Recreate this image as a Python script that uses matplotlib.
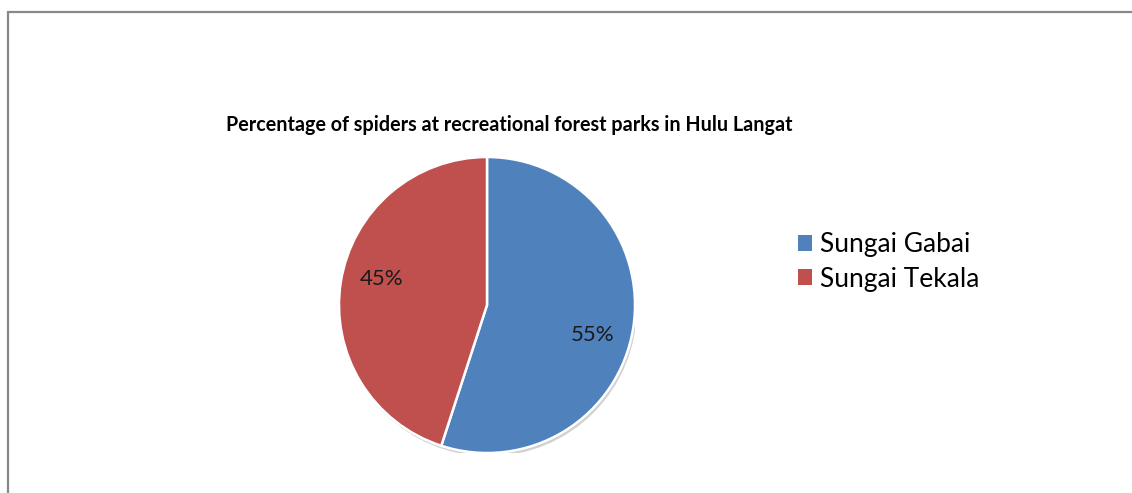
#!/usr/bin/env python3
"""Pie chart: share of spiders at two recreational forest parks in Hulu Langat."""

import matplotlib

matplotlib.use("Agg")
import matplotlib.pyplot as plt
from matplotlib.patches import Circle, Rectangle

parks = ["Sungai Gabai", "Sungai Tekala"]
shares = [55, 45]
colors = ["#4F81BD", "#C0504D"]
title = "Percentage of spiders at recreational forest parks in Hulu Langat"

plt.rcParams["font.family"] = ["Lato", "DejaVu Sans"]

W, H = 1132, 493
fig = plt.figure(figsize=(W / 100, H / 100), dpi=100)

# chart-area frame (only left and top edges visible in the crop)
fig.patches.append(Rectangle((8 / W, -0.1), 1.2, (H - 12) / H + 0.1, transform=fig.transFigure,
                             fill=False, edgecolor="#888888", linewidth=1.6))

cx, cy, r = 487, H - 305, 148
ax = fig.add_axes([(cx - r) / W, (cy - r) / H, 2 * r / W, 2 * r / H])
ax.add_patch(Circle((0.012, -0.022), 1.0, color="#000000", alpha=0.18, zorder=0, linewidth=0))
wedges, _, autotexts = ax.pie(shares, colors=colors, startangle=90, counterclock=False,
                              autopct="%d%%", pctdistance=0.72,
                              wedgeprops=dict(edgecolor="white", linewidth=1.8),
                              textprops=dict(fontsize=16, color="#1a1a1a"))
for t in autotexts:
    t.set_zorder(5)
x, y = autotexts[0].get_position()
autotexts[0].set_position((x, y - 0.09))
x, y = autotexts[1].get_position()
autotexts[1].set_position((x, y + 0.06))
ax.set_xlim(-1, 1)
ax.set_ylim(-1, 1)
ax.set_aspect("equal")
ax.axis("off")

fig.text(509 / W, 1 - 125 / H, title, ha="center", va="center", fontsize=14.2, fontweight="bold")

leg = fig.legend(wedges, parks, loc="upper left", bbox_to_anchor=(790 / W, 1 - 224 / H),
                 frameon=False, fontsize=19, handlelength=0.55, handleheight=0.55,
                 handletextpad=0.3, labelspacing=0.37, borderaxespad=0, borderpad=0.3)
for h in leg.legend_handles:
    h.set_edgecolor("none")

fig.savefig("out.png", dpi=100)
